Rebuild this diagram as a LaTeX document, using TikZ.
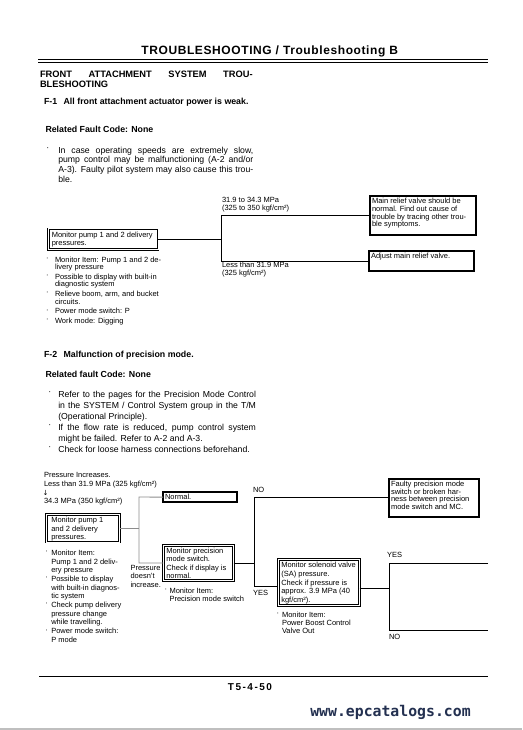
\documentclass[tikz,border=0pt]{standalone}
\usepackage{fontspec}
\setmainfont{Liberation Sans}
\newfontfamily\titlefont[LetterSpace=5]{Liberation Sans}
\newfontfamily\pagefont[LetterSpace=15]{Liberation Sans}
\newfontfamily\urlfont{DejaVu Sans Mono}
\newfontfamily\symfont{DejaVu Sans}
\definecolor{urlblue}{RGB}{35,48,80}
\newcommand\bt[3]{\parbox[t][#2pt][t]{#1pt}{\begin{tabular}[t]{@{}l@{}}#3\end{tabular}}}
\newcommand\bu[1]{\makebox[#1][l]{\raisebox{1.6pt}{·}}}
\newcommand\bub[1]{\makebox[#1][l]{\raisebox{2.4pt}{·}}}
\tikzset{
 hd/.style={anchor=base west, inner sep=0pt, outer sep=0pt, font=\fontsize{8.8}{10}\selectfont\bfseries},
 body/.style={anchor=base west, inner sep=0pt, outer sep=0pt, font=\fontsize{8.7}{9.7}\selectfont},
 lbl/.style={anchor=base west, inner sep=0pt, outer sep=0pt, font=\fontsize{7.5}{8}\selectfont},
 tbox/.style={draw, line width=2pt, anchor=north west, inner xsep=2pt, inner ysep=2.3pt, outer sep=0pt, font=\fontsize{7.5}{7.7}\selectfont},
 dbox/.style={draw, double, double distance=1pt, line width=0.8pt, anchor=north west, inner xsep=3pt, inner ysep=2.3pt, outer sep=0pt, font=\fontsize{7.5}{8.5}\selectfont},
 conn/.style={line width=0.75pt},
 gconn/.style={line width=0.9pt, draw=black!45},
}
\begin{document}
\begin{tikzpicture}[x=1pt,y=-1pt]
\fill[white] (0,0) rectangle (522,730);
\useasboundingbox (0,0) rectangle (522,730);
\fill[black!25] (0,727.5) rectangle (522,730);

% ---------- header ----------
\node[anchor=base, inner sep=0pt] (title) at (269.7,54.3) {\fontsize{12}{14}\titlefont\bfseries TROUBLESHOOTING / Troubleshooting B};
\coordinate (r1l) at (38,59.5); \coordinate (r1r) at (488,59.5);
\coordinate (r2l) at (38,62.3); \coordinate (r2r) at (488,62.3);
\draw[line width=1.3pt] (r1l) -- (r1r);
\draw[line width=0.6pt] (r2l) -- (r2r);

\node[hd, font=\fontsize{9.3}{10}\selectfont\bfseries] (sect) at (40,77.3) {\begin{tabular}[t]{@{}l@{}}\makebox[212.7pt][s]{FRONT ATTACHMENT SYSTEM TROU-}\\BLESHOOTING\end{tabular}};

% ---------- F-1 ----------
\node[hd] (f1title) at (44,105) {F-1\hspace{4pt} All front attachment actuator power is weak.};
\node[hd] (f1code) at (45.5,132.5) {Related Fault Code: None};
\node[body] (f1text) at (46.3,153.3) {\begin{tabular}[t]{@{}l@{}}
\bub{12pt}\makebox[195pt][s]{In case operating speeds are extremely slow,}\\
\hspace*{12pt}\makebox[195pt][s]{pump control may be malfunctioning (A-2 and/or}\\
\hspace*{12pt}\makebox[195pt][s]{A-3). Faulty pilot system may also cause this trou-}\\
\hspace*{12pt}ble.
\end{tabular}};

\node[dbox, inner xsep=3.5pt] (f1mon) at (48.3,228.8) {\bt{102.7}{16.3}{Monitor pump 1 and 2 delivery\\pressures.}};
\node[tbox] (mr) at (370,196) {\bt{102}{34.4}{Main relief valve should be\\normal. Find out cause of\\trouble by tracing other trou-\\ble symptoms.}};
\node[tbox] (adj) at (369,251) {\bt{101}{15.4}{Adjust main relief valve.}};

\coordinate (f1t) at (221,215);
\coordinate (f1b) at (221,261);
\draw[conn] (f1mon.east) -- (f1mon.east -| f1t);
\draw[conn] (f1t -| mr.west) -- (f1t) -- (f1b) -- (f1b -| adj.west);

\node[lbl] (l1a) at (222,202.5) {31.9 to 34.3 MPa};
\node[lbl] (l1b) at (222,210) {(325 to 350 kgf/cm²)};
\node[lbl] (l1c) at (222,267.7) {Less than 31.9 MPa};
\node[lbl] (l1d) at (222,275.5) {(325 kgf/cm²)};

\node[lbl, font=\fontsize{7.5}{7.6}\selectfont] (f1notes) at (46,262) {\begin{tabular}[t]{@{}l@{}}
\bu{9pt}Monitor Item: Pump 1 and 2 de-\\
\hspace*{9pt}livery pressure\\[1.8pt]
\bu{9pt}Possible to display with built-in\\
\hspace*{9pt}diagnostic system\\[1.8pt]
\bu{9pt}Relieve boom, arm, and bucket\\
\hspace*{9pt}circuits.\\[1.8pt]
\bu{9pt}Power mode switch: P\\[1.8pt]
\bu{9pt}Work mode: Digging
\end{tabular}};

% ---------- F-2 ----------
\node[hd] (f2title) at (44,357) {F-2\hspace{4pt} Malfunction of precision mode.};
\node[hd] (f2code) at (45.5,377) {Related fault Code: None};
\node[body, font=\fontsize{8.7}{11}\selectfont] (f2text) at (48.3,397) {\begin{tabular}[t]{@{}l@{}}
\bub{10pt}\makebox[197.7pt][s]{Refer to the pages for the Precision Mode Control}\\
\hspace*{10pt}\makebox[197.7pt][s]{in the SYSTEM / Control System group in the T/M}\\
\hspace*{10pt}(Operational Principle).\\
\bub{10pt}\makebox[197.7pt][s]{If the flow rate is reduced, pump control system}\\
\hspace*{10pt}might be failed. Refer to A-2 and A-3.\\
\bub{10pt}Check for loose harness connections beforehand.
\end{tabular}};

\node[lbl] (p1) at (44,477) {Pressure Increases.};
\node[lbl] (p2) at (44,486) {Less than 31.9 MPa (325 kgf/cm²)};
\node[inner sep=0pt, font=\fontsize{7}{7}\symfont] (arr) at (45.5,493.2) {↓};
\node[lbl] (p3) at (44,503.7) {34.3 MPa (350 kgf/cm²)};

\node[dbox, inner xsep=5pt] (f2mon) at (46.3,514.6) {\bt{63.4}{22.8}{Monitor pump 1\\and 2 delivery\\pressures.}};
\node[tbox, font=\fontsize{7.5}{8}\selectfont] (normal) at (163,492) {\bt{70}{5.4}{Normal.}};
\node[dbox, font=\fontsize{7.5}{8.2}\selectfont] (prec) at (163.3,545.3) {\bt{64.4}{30.8}{Monitor precision\\mode switch.\\[1pt]Check if display is\\normal.}};
\node[tbox] (faulty) at (389,478.7) {\bt{86}{34}{Faulty precision mode\\switch or broken har-\\ness between precision\\mode switch and MC.}};
\node[dbox, inner ysep=2pt] (sol) at (278.3,559.6) {\bt{75.4}{42}{Monitor solenoid valve\\(SA) pressure.\\[0.5pt]Check if pressure is\\approx. 3.9 MPa (40\\kgf/cm²).}};

\coordinate (gtop) at (139,497);
\coordinate (gbot) at (139,563);
\draw[gconn] (f2mon.east) -- (f2mon.east -| gtop);
\draw[gconn] (normal.west) -- (gtop) -- (gbot) -- (prec.west);

\coordinate (ntop) at (254,497);
\coordinate (nbot) at (254,586);
\draw[conn] (prec.east) -- (prec.east -| ntop);
\draw[conn] (faulty.west |- ntop) -- (ntop) -- (nbot) -- (nbot -| sol.west);

\coordinate (sv) at (389,588);
\coordinate (svt) at (389,563);
\coordinate (svb) at (389,630);
\coordinate (yend) at (488,563);
\coordinate (nend) at (488,630);
\draw[conn] (sol.east |- sv) -- (sv);
\draw[conn] (yend) -- (svt) -- (svb) -- (nend);

\node[lbl] (no1) at (253,492.7) {NO};
\node[lbl] (yes1) at (253,595.4) {YES};
\node[lbl] (yes2) at (387,557.7) {YES};
\node[lbl] (no2) at (389,639.4) {NO};

\node[lbl, font=\fontsize{7.5}{8.4}\selectfont] (pdi) at (130.5,570.3) {\begin{tabular}[t]{@{}l@{}}Pressure\\doesn't\\increase.\end{tabular}};

\node[lbl, font=\fontsize{7.5}{8.7}\selectfont] (f2notes) at (45.3,555.3) {\begin{tabular}[t]{@{}l@{}}
\bu{6pt}Monitor Item:\\
\hspace*{6pt}Pump 1 and 2 deliv-\\
\hspace*{6pt}ery pressure\\
\bu{6pt}Possible to display\\
\hspace*{6pt}with built-in diagnos-\\
\hspace*{6pt}tic system\\
\bu{6pt}Check pump delivery\\
\hspace*{6pt}pressure change\\
\hspace*{6pt}while travelling.\\
\bu{6pt}Power mode switch:\\
\hspace*{6pt}P mode
\end{tabular}};

\node[lbl, font=\fontsize{7.5}{8}\selectfont] (precnotes) at (164.5,593.5) {\begin{tabular}[t]{@{}l@{}}
\bu{5pt}Monitor Item:\\
\hspace*{5pt}Precision mode switch
\end{tabular}};

\node[lbl, font=\fontsize{7.5}{8.3}\selectfont] (solnotes) at (276.5,617) {\begin{tabular}[t]{@{}l@{}}
\bu{5.5pt}Monitor Item:\\
\hspace*{5.5pt}Power Boost Control\\
\hspace*{5.5pt}Valve Out
\end{tabular}};

% ---------- footer ----------
\coordinate (fl) at (39,676); \coordinate (fr) at (488,676);
\draw[line width=0.8pt] (fl) -- (fr);
\node[anchor=base, inner sep=0pt] (pg) at (250,690.7) {\fontsize{10}{11}\pagefont\bfseries T5-4-50};
\node[anchor=base, inner sep=0pt, text=urlblue] (url) at (390.5,716.5) {\fontsize{14.8}{16}\urlfont\bfseries www.epcatalogs.com};
\end{tikzpicture}
\end{document}
